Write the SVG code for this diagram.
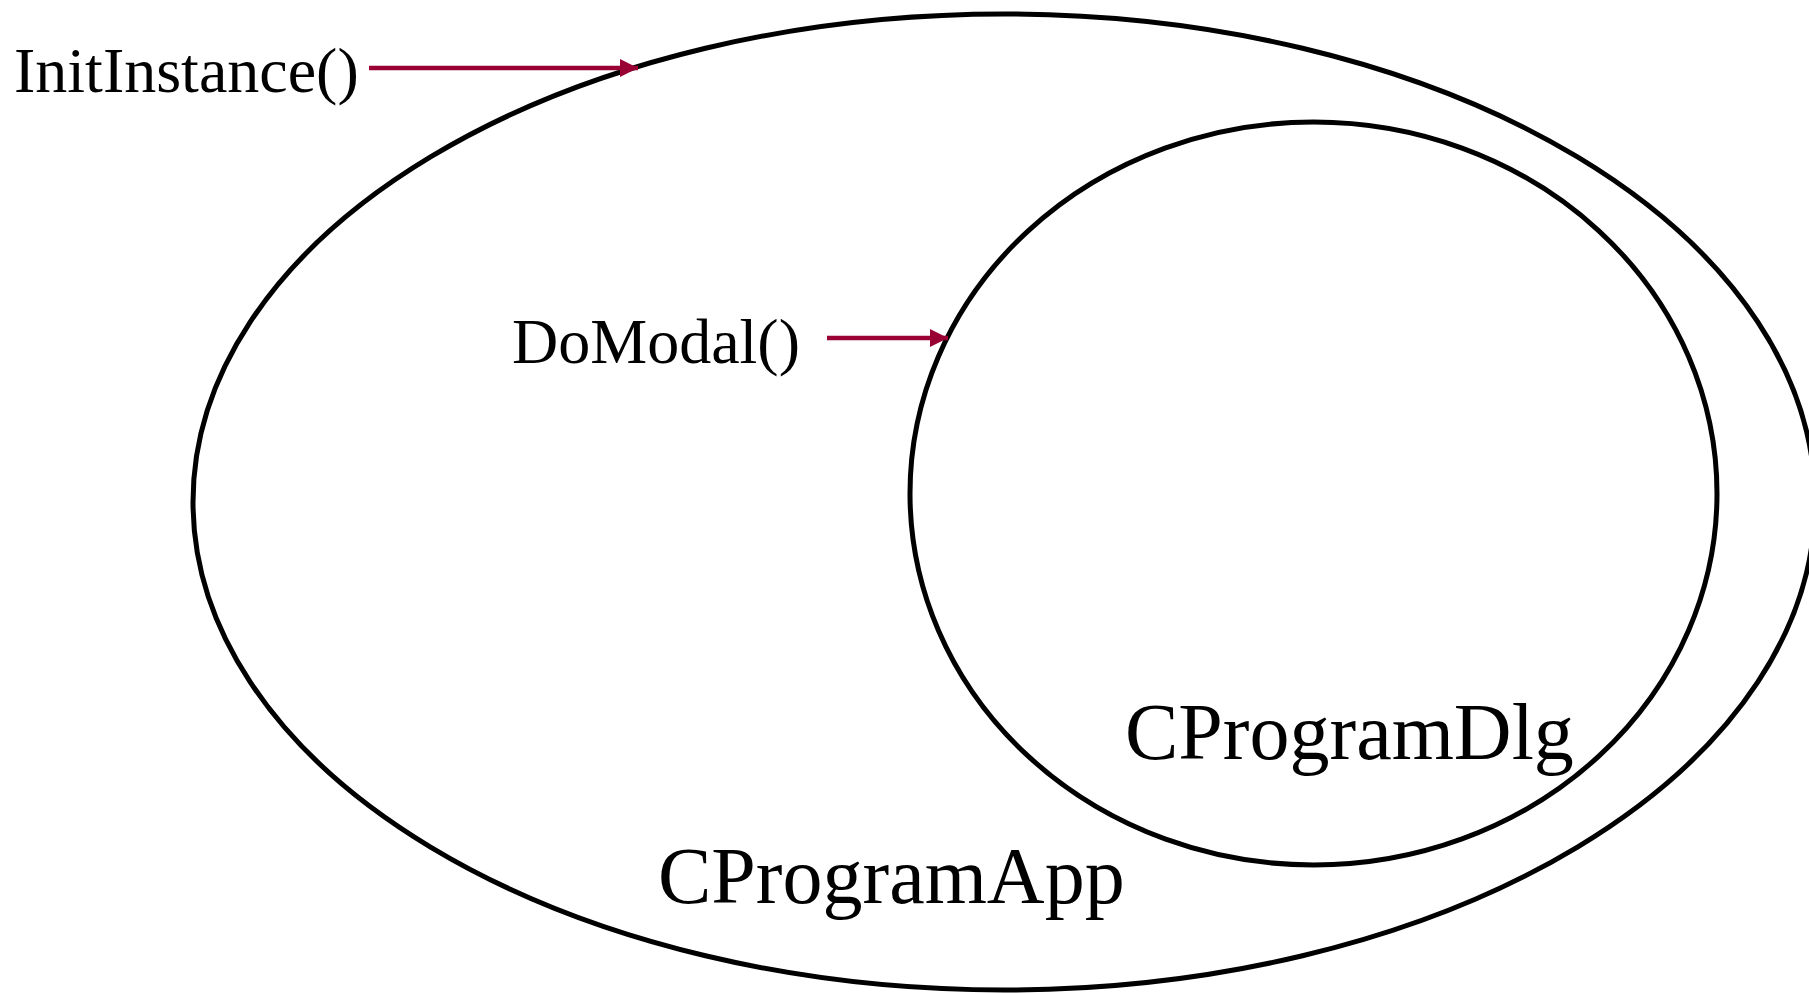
<svg xmlns="http://www.w3.org/2000/svg" width="1809" height="993" viewBox="0 0 1809 993">
<style>
.shape{fill:none;stroke:#000;stroke-width:5}
.lbl{font-family:"Liberation Serif","Times New Roman",serif;fill:#000}
.arrow{stroke:#990033;stroke-width:4.5;fill:none}
</style>
<defs>
<marker id="ah" viewBox="0 0 10 10" refX="10" refY="5" markerWidth="4" markerHeight="4" orient="auto" markerUnits="strokeWidth">
<path d="M0,0 L10,5 L0,10 z" fill="#990033"/>
</marker>
</defs>
<rect width="1809" height="993" fill="#fff"/>
<g id="app">
<ellipse class="shape" cx="1004" cy="502" rx="811" ry="488"/>
<text class="lbl" x="658" y="903" font-size="80">CProgramApp</text>
</g>
<g id="dlg">
<ellipse class="shape" cx="1313.5" cy="493.5" rx="403.5" ry="371.5"/>
<text class="lbl" x="1125" y="759" font-size="80">CProgramDlg</text>
</g>
<g id="initinstance">
<text class="lbl" x="14" y="92" font-size="64">InitInstance()</text>
</g>
<g id="domodal">
<text class="lbl" x="512" y="363" font-size="64">DoModal()</text>
</g>
<g id="connectors">
<line class="arrow" x1="369" y1="68" x2="638" y2="68" marker-end="url(#ah)"/>
<line class="arrow" x1="827" y1="338" x2="948" y2="338" marker-end="url(#ah)"/>
</g>
</svg>
